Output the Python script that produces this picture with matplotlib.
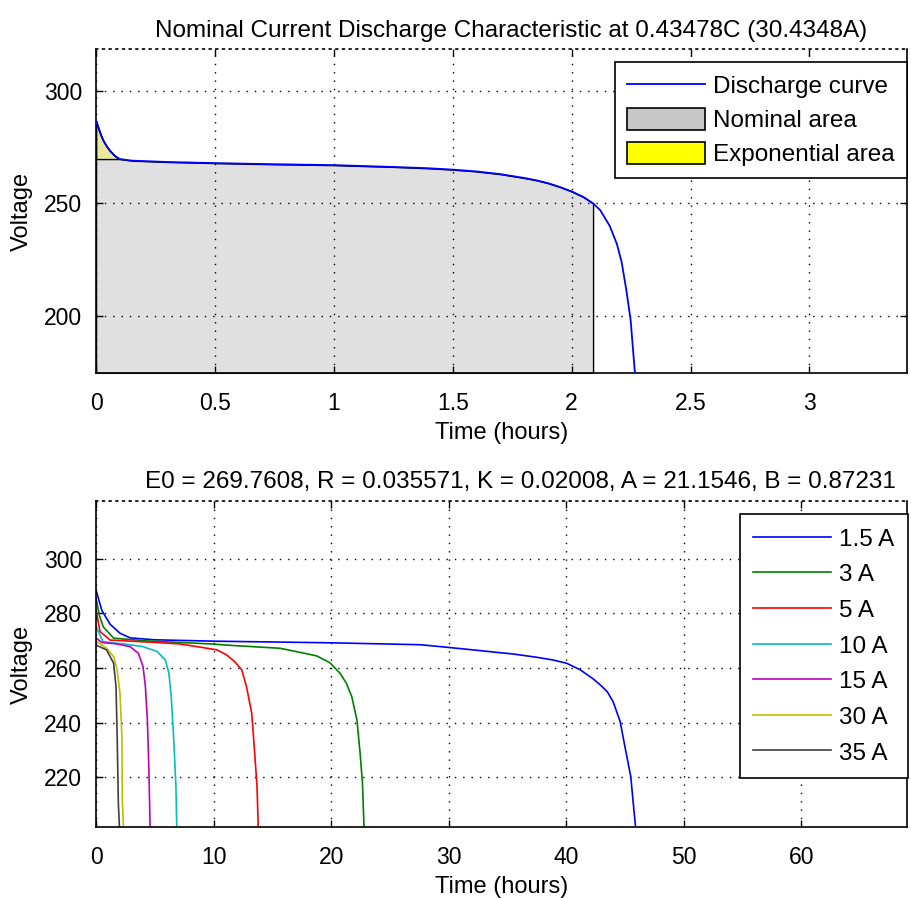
import numpy as np
import matplotlib
matplotlib.use('Agg')
import matplotlib.pyplot as plt
from matplotlib.lines import Line2D
from matplotlib.patches import Patch
from matplotlib.ticker import FuncFormatter

plt.rcParams['font.family'] = ['Liberation Sans', 'DejaVu Sans']
plt.rcParams['font.size'] = 17

# nominal current discharge curve (30.4348 A)
nom_t = np.array([0, 0.01, 0.02, 0.03, 0.045, 0.06, 0.08, 0.1, 0.15, 0.3, 0.5, 0.75,
                  1.0, 1.25, 1.4, 1.5, 1.6, 1.7, 1.8, 1.85, 1.9, 1.95, 2.0, 2.05, 2.09,
                  2.12, 2.16, 2.19, 2.21, 2.23, 2.248, 2.265, 2.272])
nom_v = np.array([286.7, 283.5, 280.5, 278.0, 275.3, 273.2, 271.0, 269.7, 269.0, 268.4,
                  267.9, 267.4, 267.0, 266.2, 265.6, 265.0, 264.2, 263.0, 261.3, 260.3,
                  259.0, 257.3, 255.3, 252.8, 250.0, 247.0, 240.0, 232.0, 224.0, 211.4,
                  198.1, 175.9, 170.0])
t_exp, v_exp = 0.1, 269.7
t_nom = 2.09

# discharge curves for several currents
currents = ['1.5 A', '3 A', '5 A', '10 A', '15 A', '30 A', '35 A']
curve_t = [
    [0, 0.5, 1.2, 2.04, 2.9, 5, 10, 20, 27.6, 29.3, 32.1, 34.1, 35.5, 37.5, 38.9,
     40.05, 41.2, 42.3, 42.9, 43.5, 44.0, 44.6, 45.0, 45.5, 45.7, 45.9],
    [0, 0.3, 0.62, 1.5, 4.3, 9.7, 11.7, 15.66, 17.36, 18.78, 19.9, 20.77, 21.3, 21.76,
     22.2, 22.47, 22.67, 22.8],
    [0, 0.34, 1.2, 5.2, 7.1, 8.6, 10.3, 11.1, 11.8, 12.4, 12.8, 13.25, 13.5, 13.7, 13.8],
    [0, 0.6, 2.3, 4.0, 5.2, 5.9, 6.2, 6.4, 6.6, 6.8, 6.87],
    [0, 0.5, 1.76, 2.9, 3.6, 4.0, 4.2, 4.37, 4.5, 4.6],
    [0, 0.9, 1.5, 1.8, 2.04, 2.2, 2.24, 2.33],
    [0, 0.9, 1.5, 1.7, 1.8, 1.9, 1.99],
]
curve_v = [
    [288.5, 281.0, 276.0, 272.7, 271.0, 270.3, 269.8, 269.2, 268.5, 267.8, 266.6,
     265.7, 265.1, 263.9, 262.9, 261.7, 259.3, 256.0, 253.8, 251.3, 247.6, 240.3,
     231.2, 220.2, 211.0, 202.0],
    [285.5, 279.0, 275.0, 270.9, 269.9, 268.8, 268.2, 267.2, 265.7, 264.4, 261.9, 258.0,
     254.4, 249.5, 241.0, 228.8, 217.8, 202.0],
    [281.2, 273.3, 270.2, 269.3, 268.8, 267.8, 266.6, 264.8, 262.3, 259.3, 253.2, 243.4,
     228.8, 216.6, 202.0],
    [275.1, 269.6, 268.8, 267.8, 266.0, 262.9, 258.0, 249.5, 234.9, 216.6, 202.0],
    [271.0, 269.3, 268.8, 267.8, 265.4, 260.5, 253.2, 241.0, 222.7, 202.0],
    [269.9, 267.2, 264.1, 259.3, 250.7, 234.9, 211.7, 202.0],
    [268.4, 266.6, 261.7, 253.2, 234.9, 210.5, 202.0],
]
colors = [(0, 0, 1), (0, 0.5, 0), (1, 0, 0), (0, 0.75, 0.75), (0.75, 0, 0.75),
          (0.75, 0.75, 0), (0.25, 0.25, 0.25)]

top_title = 'Nominal Current Discharge Characteristic at 0.43478C (30.4348A)'
bot_title = 'E0 = 269.7608, R = 0.035571, K = 0.02008, A = 21.1546, B = 0.87231'

fig = plt.figure(figsize=(9.11, 8.98), dpi=100)
ax1 = fig.add_axes([0.1054, 0.5846, 0.8902, 0.3608])
ax2 = fig.add_axes([0.1054, 0.0791, 0.8902, 0.3630])

fmt = FuncFormatter(lambda v, p: '%g' % v)


def style(ax):
    ax.grid(True, color='k', linestyle=(0, (1, 5)), linewidth=1.0)
    ax.tick_params(direction='in', top=True, right=True, length=5, width=1,
                   labelsize=16.5, pad=10)
    ax.tick_params(axis='x', pad=14)
    for s in ax.spines.values():
        s.set_linewidth(1.2)
    ax.spines['top'].set_linestyle((0, (1, 3)))
    ax.xaxis.set_major_formatter(fmt)
    ax.set_xlabel('Time (hours)', fontsize=17, labelpad=5)
    ax.set_ylabel('Voltage', fontsize=17, labelpad=8)


# top plot
y1lo, y1hi = 174.6, 318.6
m = nom_t <= t_nom
ax1.fill_between(nom_t[m], nom_v[m], y1lo, facecolor='#e0e0e0', edgecolor='k',
                 linewidth=1.0, zorder=1)
me = nom_t <= t_exp
ax1.fill_between(nom_t[me], nom_v[me], v_exp, facecolor=(1, 1, 0, 0.3), edgecolor='k',
                 linewidth=1.0, zorder=1.5)
ax1.plot(nom_t, nom_v, color='b', linewidth=1.3, zorder=3)
ax1.set_xlim(0, 3.41)
ax1.set_ylim(y1lo, y1hi)
ax1.set_xticks(np.arange(0, 3.01, 0.5))
ax1.set_yticks([200, 250, 300])
style(ax1)
ax1.set_title(top_title, fontsize=17.5, pad=9, x=0.512)
h1 = [Line2D([], [], color='b', linewidth=1.3),
      Patch(facecolor='#c8c8c8', edgecolor='k', linewidth=1.2),
      Patch(facecolor='yellow', edgecolor='k', linewidth=1.2)]
leg1 = ax1.legend(h1, ['Discharge curve', 'Nominal area', 'Exponential area'],
                  loc='upper right', bbox_to_anchor=(1.0, 0.96), borderaxespad=0,
                  fontsize=17.5, fancybox=False, framealpha=1,
                  edgecolor='k', handlelength=3.2, handleheight=1.0,
                  labelspacing=0.4, handletextpad=0.35, borderpad=0.5)
leg1.get_frame().set_linewidth(1.2)

# bottom plot
for t, v, c, lab in zip(curve_t, curve_v, colors, currents):
    ax2.plot(t, v, color=c, linewidth=1.2, label=lab)
ax2.set_xlim(0, 69)
ax2.set_ylim(201.8, 321.1)
ax2.set_xticks(np.arange(0, 61, 10))
ax2.set_yticks(np.arange(220, 301, 20))
style(ax2)
ax2.set_title(bot_title, fontsize=17.5, pad=9, x=0.523)
leg2 = ax2.legend(loc='upper right', bbox_to_anchor=(1.001, 0.96), borderaxespad=0,
                  fontsize=17.5, fancybox=False, framealpha=1,
                  edgecolor='k', handlelength=3.2, handleheight=0.9,
                  labelspacing=0.5, handletextpad=0.35, borderpad=0.55)
leg2.get_frame().set_linewidth(1.2)

fig.savefig('out.png', dpi=100)
